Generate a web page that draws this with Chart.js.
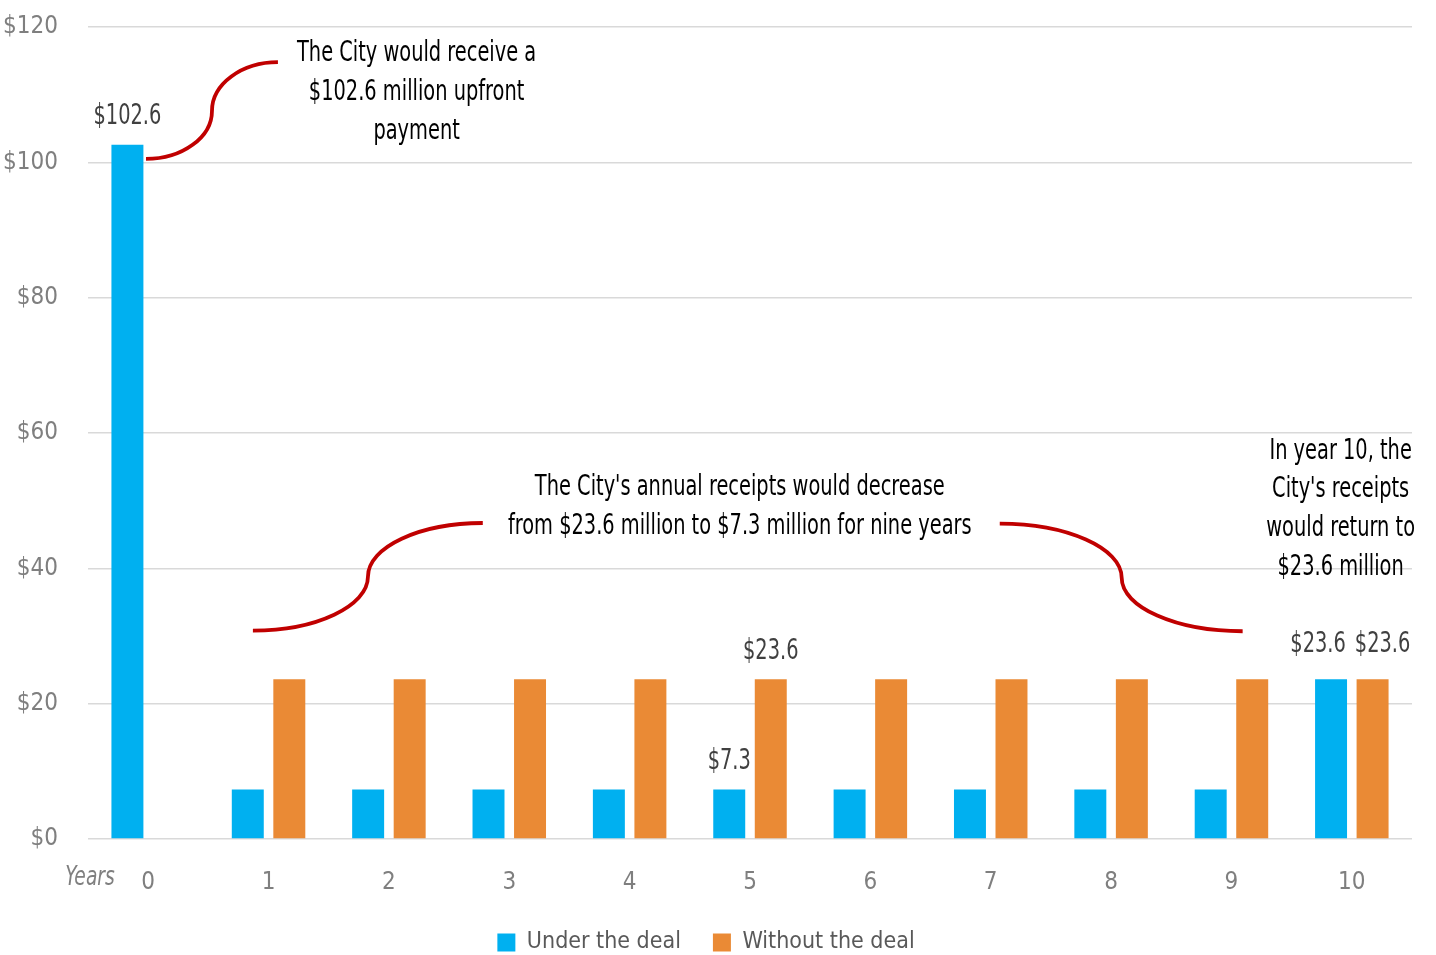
<!DOCTYPE html>
<html>
<head>
<meta charset="utf-8">
<script src="https://cdn.jsdelivr.net/npm/chart.js@4/dist/chart.umd.min.js"></script>
<style>
  html, body { margin: 0; padding: 0; background: #fff; }
  #wrap { width: 1436px; height: 955px; }
</style>
</head>
<body>
<div id="wrap"><canvas id="myChart" width="1436" height="955"></canvas></div>
<script>
const years = ['0', '1', '2', '3', '4', '5', '6', '7', '8', '9', '10'];
const underDeal = [102.6, 7.3, 7.3, 7.3, 7.3, 7.3, 7.3, 7.3, 7.3, 7.3, 23.6];
const withoutDeal = [null, 23.6, 23.6, 23.6, 23.6, 23.6, 23.6, 23.6, 23.6, 23.6, 23.6];
const seriesNames = ['Under the deal', 'Without the deal'];
const yTicks = [0, 20, 40, 60, 80, 100, 120];

// which bars get a value label: [dataset, index]
const labelled = [[0, 0], [0, 5], [1, 5], [0, 10], [1, 10]];

const FONT = '"DejaVu Sans Condensed", "Liberation Sans Narrow", sans-serif';
const SQUEEZE = 0.77; // condensed look for drawn text

const notes = [
    { i: 2.23, v: 116.0, lines: ['The City would receive a', '$102.6 million upfront', 'payment'] },
    { i: 4.915, v: 51.9, lines: ["The City's annual receipts would decrease", 'from $23.6 million to $7.3 million for nine years'] },
    { i: 9.907, v: 57.3, lines: ['In year 10, the', "City's receipts", 'would return to', '$23.6 million'] }
];

// braces: start, middle, end as [index, value]
const braces = [
    [[-0.018, 100.5], [0.53, 107.6], [1.078, 114.8]],
    [[0.87, 30.8], [1.826, 38.8], [2.78, 46.7]],
    [[7.075, 46.6], [8.088, 38.6], [9.093, 30.7]]
];

function squeezed(ctx, text, x, y) {
    ctx.save();
    ctx.translate(x, y);
    ctx.scale(SQUEEZE, 1);
    ctx.fillText(text, 0, 0);
    ctx.restore();
}

// keep the legend box a fixed height, so a wide item gap doesn't push it down
const legendHeight = {
    id: 'legendHeight',
    afterInit(chart) {
        const lg = chart.legend;
        const fit = lg.fit;
        lg.fit = function () { fit.call(this); this.height = 56; };
    }
};

const extras = {
    id: 'extras',
    afterDatasetsDraw(chart) {
        const ctx = chart.ctx;
        const x = chart.scales.x, y = chart.scales.y;
        ctx.save();

        // value labels
        ctx.font = '28px ' + FONT;
        ctx.fillStyle = '#404040';
        ctx.textAlign = 'center';
        ctx.textBaseline = 'middle';
        labelled.forEach(([d, i]) => {
            const bar = chart.getDatasetMeta(d).data[i];
            const val = chart.data.datasets[d].data[i];
            let bx = bar.x, by = bar.y - 28;
            if (i === 10) { bx += d === 0 ? -13 : 10; by -= 7; }
            squeezed(ctx, '$' + val, bx, by);
        });

        // braces
        ctx.strokeStyle = '#c00000';
        ctx.lineWidth = 3.8;
        braces.forEach(b => {
            const p = b.map(([i, v]) => [x.getPixelForValue(i), y.getPixelForValue(v)]);
            const k = 0.55;
            ctx.beginPath();
            ctx.moveTo(p[0][0], p[0][1]);
            ctx.bezierCurveTo(p[0][0] + k * (p[1][0] - p[0][0]), p[0][1],
                p[1][0], p[1][1] + k * (p[0][1] - p[1][1]), p[1][0], p[1][1]);
            ctx.bezierCurveTo(p[1][0], p[1][1] + k * (p[2][1] - p[1][1]),
                p[2][0] + k * (p[1][0] - p[2][0]), p[2][1], p[2][0], p[2][1]);
            ctx.stroke();
        });

        // annotation text
        ctx.font = '28px ' + FONT;
        ctx.fillStyle = '#000';
        notes.forEach(n => {
            const cx = x.getPixelForValue(n.i);
            const top = y.getPixelForValue(n.v);
            n.lines.forEach((t, k) => squeezed(ctx, t, cx, top + k * 38.7));
        });

        // "Years" label
        ctx.font = 'italic 27px ' + FONT;
        ctx.fillStyle = '#7f7f7f';
        squeezed(ctx, 'Years', 90, y.bottom + 39);
        ctx.restore();
    }
};

const ctx = document.getElementById('myChart').getContext('2d');
new Chart(ctx, {
    type: 'bar',
    data: {
        labels: years,
        datasets: [
            {
                label: seriesNames[0],
                data: underDeal,
                backgroundColor: '#00b0f0',
                categoryPercentage: 0.69,
                barPercentage: 0.77
            },
            {
                label: seriesNames[1],
                data: withoutDeal,
                backgroundColor: '#ea8a35',
                categoryPercentage: 0.69,
                barPercentage: 0.77
            }
        ]
    },
    options: {
        responsive: false,
        animation: false,
        layout: { padding: { top: 27, right: 24, left: 0, bottom: 0 } },
        plugins: {
            tooltip: { enabled: false },
            legend: {
                position: 'bottom',
                labels: {
                    font: { family: FONT, size: 23 },
                    color: '#595959',
                    boxWidth: 18,
                    boxHeight: 18,
                    padding: 32
                }
            }
        },
        scales: {
            x: {
                grid: { display: false, drawTicks: false },
                border: { display: false },
                ticks: {
                    font: { family: FONT, size: 24 },
                    color: '#7f7f7f',
                    padding: 29
                },
                afterFit(scale) { scale.height = 60; }
            },
            y: {
                min: 0,
                max: 120,
                afterBuildTicks(scale) { scale.ticks = yTicks.map(v => ({ value: v })); },
                grid: { color: '#d9d9d9', lineWidth: 1.5, drawTicks: false },
                border: { display: false },
                ticks: {
                    font: { family: FONT, size: 24 },
                    color: '#7f7f7f',
                    padding: 30,
                    callback: v => '$' + v
                },
                afterFit(scale) {
                    scale.width = 88;
                    scale.paddingTop = 0;
                    scale.paddingBottom = 0;
                }
            }
        }
    },
    plugins: [legendHeight, extras]
});
</script>
</body>
</html>
